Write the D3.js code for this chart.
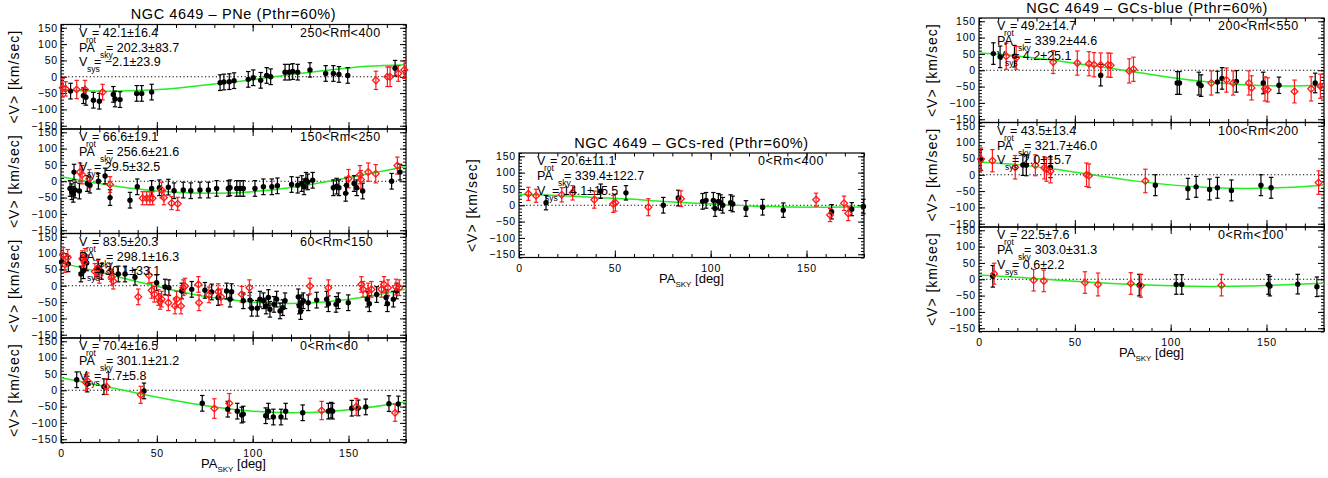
<!DOCTYPE html>
<html>
<head>
<meta charset="utf-8">
<script src="https://cdn.jsdelivr.net/npm/d3@7"></script>
<style>
  body { margin: 0; background: #fff; }
  text { font-family: "Liberation Sans", Arial, Helvetica, sans-serif; fill: #000; }
</style>
</head>
<body>
<div id="chart"></div>
<script>
// ---- data: [PA_sky, <V>, error] ----
const paTicks = [0, 50, 100, 150]
const vTicks = [-150, -100, -50, 0, 50, 100, 150]
const curvePA = [0, 20, 40, 60, 80, 100, 120, 140, 160, 180]

// PNe, 250<Rm<400
const pne250Black = [[5,-44,24],[11.7,-58,24],[13,-63,24],[16.9,-72,24],[20,-75,24],[27.3,-54,24],[28.2,-68,24],[30.8,-70,24],[39.5,-51,24],[42.1,-51,24],[47.3,-47,24],[83,-18,24],[85,-16,24],[87.8,-15,24],[90.3,-12,24],[97.7,-8,24],[100.3,-3,24],[104.2,-11,24],[107.3,4,24],[109.4,0,24],[116.9,14,24],[119.1,14,24],[120.9,16,24],[123.5,14,24],[129.9,21,22],[138.1,10,24],[142.1,10,24],[145,7,24],[149.6,4,24],[174.3,26,24]]
const pne250Red = [[0.9,-34,28],[2.4,-37,22],[8.2,-39,28],[12.5,-39,28],[21.7,-47,24],[164.3,-11,28],[170.3,0,30],[171.7,0,30],[176,10,24],[179.1,21,26]]
const pne250Curve = [-40, -44, -42, -35, -22, -9, 7, 21, 32, 37]

// PNe, 150<Rm<250
const pne150Black = [[4.7,-22,24],[5.6,-32,24],[6.4,-40,24],[7.3,-27,24],[6.8,28,24],[9.6,-30,24],[13.7,-7,24],[15.1,-12,24],[19.5,0,24],[23,16,24],[25.6,-50,24],[36,-58,24],[39.8,-17,24],[47.3,-22,24],[51.3,-20,24],[56,-18,24],[59,-29,24],[63.8,-27,24],[67.7,-29,24],[72.5,-27,24],[76.9,-27,24],[81.2,-22,24],[87.3,-22,24],[88.2,-20,24],[91.7,-22,24],[93.4,-22,24],[95.1,-22,24],[101.2,-22,24],[105.6,-17,24],[110,-17,24],[112.9,-14,24],[120.3,-10,24],[123.5,-12,24],[125.6,-7,24],[126.8,-17,24],[127.8,3,24],[128.7,-2,24],[131.3,3,24],[142.1,-20,24],[143.8,-15,24],[145,-20,24],[148.5,-37,24],[149,-12,24],[152.9,-7,24],[154.3,-20,24],[157.4,-30,24],[172.5,0,24],[176.9,28,24]]
const pne150Red = [[9.9,28,28],[11,20,28],[14.8,8,28],[25.6,-10,24],[42.6,-52,20],[44.7,-52,20],[46.4,-52,20],[47.8,-52,20],[52.5,-27,24],[53.7,-50,22],[57.7,-67,20],[60.9,-69,20],[150,8,28],[156,20,28],[156.5,5,28],[160.3,28,28],[164.2,23,28],[175.5,48,26]]
const pne150Curve = [14, -7, -24, -34, -37, -32, -19, 0, 22, 45]

// PNe, 60<Rm<150
const pne60Black = [[0.3,73,24],[3.8,67,24],[10.4,36,24],[11.7,46,24],[13.4,70,24],[19.5,57,24],[21.2,44,24],[29.9,36,24],[33.4,36,24],[38.6,26,24],[49.9,9,24],[54.3,-4,24],[56.3,-6,24],[63,-16,24],[68.2,-11,24],[75.1,-14,24],[78.6,-19,24],[82,-36,24],[86.4,-16,24],[88.2,-41,24],[89,-18,24],[95.1,-46,24],[98.6,-44,24],[99.5,-69,24],[102.4,-69,24],[103.8,-41,24],[105.6,-46,24],[107,-62,24],[108.2,-36,24],[109,-72,24],[111.1,-57,24],[112.5,-41,24],[114.3,-77,24],[115.7,-67,24],[116.9,-46,24],[123.8,-34,24],[124.3,-62,24],[125,-79,24],[125.6,-52,24],[126.4,-46,24],[129,-52,24],[133.4,-44,24],[138.6,-41,24],[139.5,-55,24],[143.5,-57,24],[144.7,-46,24],[149.9,-52,24],[159.8,-41,24],[160.9,-55,24],[164.7,-27,24],[169.6,-36,24],[170.3,-55,24],[173.4,-41,24],[175.1,-16,24]]
const pne60Red = [[1.2,93,24],[3.5,87,24],[2.1,65,24],[11.1,83,24],[12.2,73,24],[12.5,90,24],[17.7,44,24],[19.1,53,24],[20,32,24],[25.6,44,24],[26.4,26,24],[27.3,14,24],[40.3,-34,24],[45.9,32,24],[47.3,-14,24],[48.7,-26,24],[50.8,-36,24],[51.7,-48,24],[52.5,-41,24],[56,-52,24],[59.5,-62,24],[62.6,-62,24],[60.3,-41,24],[63.8,-6,24],[64.7,-1,24],[71.7,4,24],[72,-52,24],[77.2,-28,24],[82,-18,24],[83.5,-34,24],[94.3,-26,24],[98.3,-6,24],[129.9,-1,24],[139.5,-6,24],[156.7,4,24],[157.6,-11,24],[160.3,-16,24],[162,-11,24],[167.2,-11,24],[168.5,4,24],[170.6,-6,24],[174.8,-4,24],[176.5,-6,24]]
const pne60Curve = [70, 42, 12, -15, -37, -50, -54, -48, -33, -10]

// PNe, 0<Rm<60
const pne0Black = [[8.2,32,24],[13.7,19,24],[22.4,11,24],[43.3,-2,24],[73.7,-40,24],[87,-58,24],[92,-64,24],[94.3,-76,24],[95.1,-73,24],[106.8,-78,24],[108.2,-64,24],[110.8,-82,24],[114.8,-82,24],[117.2,-64,24],[126.1,-69,24],[139.5,-64,24],[140.9,-61,24],[141.7,-64,24],[151.7,-55,24],[155.1,-54,24],[159,-51,24],[171.1,-41,24],[176,-42,24]]
const pne0Red = [[13,24,24],[13.7,29,24],[23.8,11,24],[41.6,-14,26],[80,-56,30],[87.8,-40,30],[136,-62,28],[154,-51,26],[174.3,-69,26]]
const pne0Curve = [38, 15, -9, -32, -51, -64, -69, -65, -53, -35]

// GCs-red, 0<Rm<400
const gcRedBlack = [[14.1,8,22],[42.6,43,22],[55.8,38,22],[75.3,0,24],[83.1,22,24],[95.8,12,24],[97.6,15,24],[101.4,15,24],[102.3,-10,24],[104,12,24],[105.2,8,24],[106.3,0,24],[110.4,8,24],[111.5,4,24],[118.4,-10,24],[127.1,-6,24],[137.9,-15,22],[163.1,-20,22],[173.6,-12,20],[179.7,-4,22]]
const gcRedRed = [[4.9,35,20],[8.9,29,20],[22.3,32,22],[28,38,22],[39.3,17,26],[49.2,4,26],[50.3,8,26],[67.5,-6,26],[84.5,20,24],[155,17,20],[162.3,-30,20],[169.6,6,22],[171.8,-25,22]]
const gcRedCurve = [33, 30, 24, 18, 10, 4, -2, -5, -6, -5]

// GCs-blue, 200<Rm<550
const gcBlue200Black = [[7.5,51,33],[11,41,33],[18.5,43,33],[63.5,-15,33],[103.4,-39,35],[104.6,-39,35],[114.7,-41,35],[115.9,-47,33],[124.4,-36,33],[126.8,-25,33],[134.3,-34,33],[148.3,-39,33],[156.5,-46,25],[175.4,-39,30]]
const gcBlue200Red = [[14.2,43,40],[19.4,38,35],[38.7,25,35],[51.3,22,37],[57.4,20,37],[60,17,37],[63.5,16,37],[67.3,16,37],[68.7,15,37],[78.4,-2,37],[80.6,3,37],[121.2,-39,37],[129.1,-30,37],[132.6,-39,37],[140.8,-39,37],[142.2,-54,37],[149.2,-57,37],[150.6,-60,37],[164.6,-65,35],[173.3,-57,37],[178.1,-49,37]]
const gcBlue200Curve = [53, 44, 30, 13, -4, -22, -36, -45, -48, -45]

// GCs-blue, 100<Rm<200
const gcBlue100Black = [[1,45,32],[22.9,30,32],[24.7,29,32],[37.3,23,32],[92,-32,32],[109,-43,32],[113.3,-37,32],[120.3,-45,32],[124.4,-40,32],[131.7,-48,32],[147.1,-32,32],[152.4,-40,32]]
const gcBlue100Red = [[1,48,34],[7,43,34],[18.9,23,36],[29.4,29,32],[34.1,21,34],[35.2,16,36],[37.3,11,36],[56.1,0,36],[57.4,-3,36],[86.8,-19,36],[177.2,-24,36]]
const gcBlue100Curve = [39, 31, 17, -1, -18, -31, -39, -42, -39, -32]

// GCs-blue, 0<Rm<100
const gcBlue0Black = [[7.2,9,33],[83.6,-18,33],[102.9,-16,30],[105.8,-16,30],[151,-16,30],[151.8,-21,30],[166.3,-15,30],[176.3,-23,30]]
const gcBlue0Red = [[7.9,17,32],[28.5,-3,33],[33.8,-5,33],[55.3,-10,33],[62.1,-16,35],[79.2,-13,33],[84.5,-20,35],[126.5,-18,33]]
const gcBlue0Curve = [13, 6, -2, -10, -16, -20, -22, -21, -17, -12]

// fit parameters printed in each panel
const fitPNe250 = ["42.1±16.4", "202.3±83.7", "\u22122.1±23.9", "250<Rm<400"]
const fitPNe150 = ["66.6±19.1", "256.6±21.6", "29.5±32.5", "150<Rm<250"]
const fitPNe60 = ["83.5±20.3", "298.1±16.3", "30.1±33.1", "60<Rm<150"]
const fitPNe0 = ["70.4±16.5", "301.1±21.2", "1.7±5.8", "0<Rm<60"]
const fitGCred = ["20.6±11.1", "339.4±122.7", "14.1±15.5", "0<Rm<400"]
const fitGCblue200 = ["49.2±14.7", "339.2±44.6", "4.2±25.1", "200<Rm<550"]
const fitGCblue100 = ["43.5±13.4", "321.7±46.0", "2.0±15.7", "100<Rm<200"]
const fitGCblue0 = ["22.5±7.6", "303.0±31.3", "0.6±2.2", "0<Rm<100"]

const titles = ["NGC 4649 \u2013 PNe (Pthr=60%)", "NGC 4649 \u2013 GCs-red (Pthr=60%)", "NGC 4649 \u2013 GCs-blue (Pthr=60%)"]

// ---- layout ----
const width = 1328, height = 478
const pw = 345, ph = 104.5

const panels = [
  {left: 61, top: 24.5, black: pne250Black, red: pne250Red, curve: pne250Curve, fit: fitPNe250},
  {left: 61, top: 24.5 + ph, black: pne150Black, red: pne150Red, curve: pne150Curve, fit: fitPNe150},
  {left: 61, top: 24.5 + 2 * ph, black: pne60Black, red: pne60Red, curve: pne60Curve, fit: fitPNe60},
  {left: 61, top: 24.5 + 3 * ph, black: pne0Black, red: pne0Red, curve: pne0Curve, fit: fitPNe0, xlab: true},
  {left: 519, top: 153, black: gcRedBlack, red: gcRedRed, curve: gcRedCurve, fit: fitGCred, xlab: true},
  {left: 979, top: 18, black: gcBlue200Black, red: gcBlue200Red, curve: gcBlue200Curve, fit: fitGCblue200},
  {left: 979, top: 18 + ph, black: gcBlue100Black, red: gcBlue100Red, curve: gcBlue100Curve, fit: fitGCblue100},
  {left: 979, top: 18 + 2 * ph, black: gcBlue0Black, red: gcBlue0Red, curve: gcBlue0Curve, fit: fitGCblue0, xlab: true}
]

const svg = d3.select("#chart").append("svg")
  .attr("width", width)
  .attr("height", height)

svg.append("rect").attr("width", width).attr("height", height).attr("fill", "#fff")

// column titles
const titlePos = [[233.5, 19], [691.5, 148], [1147, 12.5]]
titles.forEach((t, i) => {
  svg.append("text")
    .attr("x", titlePos[i][0]).attr("y", titlePos[i][1])
    .attr("text-anchor", "middle")
    .style("font-size", "14.5px")
    .style("letter-spacing", "0.6px")
    .text(t)
})

function drawPanel(p) {
  const x = d3.scaleLinear().domain([0, 180]).range([p.left, p.left + pw])
  const y = d3.scaleLinear().domain([-160, 160]).range([p.top + ph, p.top])
  const g = svg.append("g")

  // inward ticks on all four sides
  const minor = d3.range(-160, 161, 10)
  const minorX = d3.range(0, 181, 10)
  const axes = [
    [d3.axisLeft(y).tickValues(vTicks).tickSize(-6).tickPadding(3).tickFormat(d3.format("d")), p.left, 0],
    [d3.axisLeft(y).tickValues(minor).tickSize(-3).tickFormat(""), p.left, 0],
    [d3.axisRight(y).tickValues(vTicks).tickSize(-6).tickFormat(""), p.left + pw, 0],
    [d3.axisRight(y).tickValues(minor).tickSize(-3).tickFormat(""), p.left + pw, 0],
    [d3.axisBottom(x).tickValues(paTicks).tickSize(-7).tickPadding(7).tickFormat(p.xlab ? d3.format("d") : ""), 0, p.top + ph],
    [d3.axisBottom(x).tickValues(minorX).tickSize(-3.5).tickFormat(""), 0, p.top + ph],
    [d3.axisTop(x).tickValues(paTicks).tickSize(-7).tickFormat(""), 0, p.top],
    [d3.axisTop(x).tickValues(minorX).tickSize(-3.5).tickFormat(""), 0, p.top]
  ]
  axes.forEach(([ax, tx, ty]) => {
    const a = g.append("g").attr("transform", `translate(${tx},${ty})`).call(ax)
    a.select(".domain").remove()
    a.selectAll("line").attr("stroke", "#000")
    a.selectAll("text").style("font-size", "10.5px").style("letter-spacing", "0.8px").attr("fill", "#000")
      .style("font-family", '"Liberation Sans", Arial, sans-serif')
  })

  g.append("rect")
    .attr("x", p.left).attr("y", p.top)
    .attr("width", pw).attr("height", ph)
    .attr("fill", "none").attr("stroke", "#000").attr("stroke-width", 1.2)

  // zero line
  g.append("line")
    .attr("x1", x(0)).attr("x2", x(180))
    .attr("y1", y(0)).attr("y2", y(0))
    .attr("stroke", "#000").attr("stroke-dasharray", "1.2,2.4")

  // fitted rotation curve
  const line = d3.line()
    .x((d, i) => x(curvePA[i]))
    .y(d => y(d))
    .curve(d3.curveNatural)
  g.append("path")
    .datum(p.curve)
    .attr("d", line)
    .attr("fill", "none").attr("stroke", "#22ee22").attr("stroke-width", 1.5)

  // error bars + markers
  function bars(data, color) {
    const eb = g.append("g").attr("stroke", color).attr("stroke-width", 1.2)
    data.forEach(d => {
      const px = x(d[0])
      eb.append("line").attr("x1", px).attr("x2", px).attr("y1", y(d[1] - d[2])).attr("y2", y(d[1] + d[2]))
      eb.append("line").attr("x1", px - 2.2).attr("x2", px + 2.2).attr("y1", y(d[1] - d[2])).attr("y2", y(d[1] - d[2]))
      eb.append("line").attr("x1", px - 2.2).attr("x2", px + 2.2).attr("y1", y(d[1] + d[2])).attr("y2", y(d[1] + d[2]))
    })
  }
  bars(p.black, "#000")
  bars(p.red, "#ff1a1a")

  g.append("g").selectAll("circle")
    .data(p.black)
    .join("circle")
    .attr("cx", d => x(d[0])).attr("cy", d => y(d[1]))
    .attr("r", 2.7).attr("fill", "#000")

  g.append("g").selectAll("path")
    .data(p.red)
    .join("path")
    .attr("d", d => {
      const cx = x(d[0]), cy = y(d[1]), r = 3.4
      return `M${cx},${cy - r}L${cx + r},${cy}L${cx},${cy + r}L${cx - r},${cy}Z`
    })
    .attr("fill", "none").attr("stroke", "#ff1a1a").attr("stroke-width", 1.3)

  // fit results text
  const x0 = p.left + 18
  const rows = [
    {main: "V", sub: "rot", sdx: 7, rdx: 13, dy: 12, val: p.fit[0]},
    {main: "PA", sub: "sky", sdx: 21, rdx: 27, dy: 27, val: p.fit[1]},
    {main: "V", sub: "sys", sdx: 8, rdx: 15, dy: 41.5, val: p.fit[2]}
  ]
  rows.forEach(r => {
    g.append("text").attr("x", x0).attr("y", p.top + r.dy).style("font-size", "12.5px").text(r.main)
    g.append("text").attr("x", x0 + r.sdx).attr("y", p.top + r.dy + 6).style("font-size", "8.5px").text(r.sub)
    g.append("text").attr("x", x0 + r.rdx).attr("y", p.top + r.dy).style("font-size", "12.5px").text("= " + r.val)
  })
  g.append("text").attr("x", p.left + 239).attr("y", p.top + 12)
    .style("font-size", "12.5px").style("letter-spacing", "0.5px").text(p.fit[3])

  // y axis title
  g.append("text")
    .attr("transform", `translate(${p.left - 42},${p.top + ph / 2}) rotate(-90)`)
    .attr("text-anchor", "middle")
    .style("font-size", "14px")
    .style("letter-spacing", "1px")
    .text("<V> [km/sec]")

  if (p.xlab) {
    const t = g.append("text")
      .attr("x", p.left + pw / 2).attr("y", p.top + ph + 25)
      .attr("text-anchor", "middle")
      .style("font-size", "13px")
    t.append("tspan").text("PA")
    t.append("tspan").attr("dy", 4).style("font-size", "8px").text("SKY")
    t.append("tspan").attr("dy", -4).text(" [deg]")
  }
}

panels.forEach(drawPanel)
</script>
</body>
</html>
